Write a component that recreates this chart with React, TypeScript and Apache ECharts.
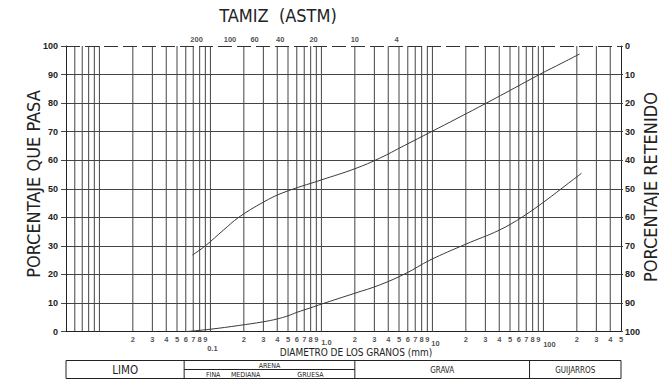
import React, { useEffect, useRef } from "react";
import * as echarts from "echarts";

// Grain-size distribution: particle diameter (mm) vs. percent passing
const upperSize = [0.069, 0.09, 0.13, 0.18, 0.3, 0.45, 1.0, 2.0, 3.35, 5.5, 9.8, 17, 30.6, 55, 92, 150, 212];
const upperPass = [26.8, 30, 35.4, 40, 45.3, 48.6, 53.1, 57, 60.7, 65, 70, 74.8, 80, 85.3, 90, 94.2, 97.2];

const lowerSize = [0.062, 0.1, 0.18, 0.3, 0.4, 0.5, 0.6, 0.8, 1.0, 2.0, 3.35, 5.8, 9.5, 20, 40, 65, 106, 160, 220];
const lowerPass = [0, 0.8, 2.1, 3.4, 4.4, 5.5, 6.7, 8.3, 9.6, 13.4, 16.3, 20.4, 25, 30.6, 35.5, 40.2, 46, 51.3, 55.4];

// ASTM sieve numbers and their openings (mm)
const sieveNames = ["200", "100", "60", "40", "20", "10", "4"];
const sieveSizes = [0.075, 0.15, 0.25, 0.425, 0.85, 2.0, 4.75];

// Log-axis tick labels: leading digits inside each decade
const digitLabels = ["2", "3", "4", "5", "6", "7", "8", "9"];
const labelledDecades = [0.01, 0.1, 1, 10];
const lastDecade = 100;
const lastDecadeDigits = ["2", "3", "4", "5"];
const decadeValues = [0.1, 1, 10, 100];
const decadeTexts = ["0.1", "1.0", "10", "100"];

// Vertical grid: every integer multiple within each decade
const gridDecades = [0.001, 0.01, 0.1, 1, 10, 100];
const gridMultipliers = [1, 2, 3, 4, 5, 6, 7, 8, 9];

// Soil classification bands
const soilNames = ["LIMO", "ARENA", "GRAVA", "GUIJARROS"];
const soilBounds = [0.005, 0.058, 2, 75, 500];
const arenaParts = ["FINA", "MEDIANA", "GRUESA"];

const X_MIN = 0.005;
const X_MAX = 500;

const NARROW = "'Liberation Sans Narrow', 'DejaVu Sans Condensed', 'Liberation Sans', sans-serif";
const SANS = "'Liberation Sans', Arial, sans-serif";
const INK = "#222";
const GRID = "#444";

// where the decade numbers sit relative to their grid line
const decadeLabelOffsets: Record<string, [number, number]> = {
  "0.1": [2, 9],
  "1.0": [5, 3],
  "10": [3, 4],
  "100": [6, 5],
};
// horizontal placement of the sand sub-classes inside the ARENA cell
const arenaPartFractions = [0.17, 0.36, 0.74];

export default function App() {
  const ref = useRef<HTMLDivElement>(null);

  useEffect(() => {
    if (!ref.current) return;
    const chart = echarts.init(ref.current, null, { renderer: "svg" });

    const gridLines: number[] = [];
    gridDecades.forEach((d) =>
      gridMultipliers.forEach((m) => {
        const v = +(d * m).toPrecision(6);
        if (v > X_MIN * 1.0001 && v < X_MAX * 0.9999) gridLines.push(v);
      })
    );
    // each grid line is a two-point segment, separated by an empty point
    const gridSegments: any[] = [];
    gridLines.forEach((v) => {
      gridSegments.push([v, 0], [v, 100], [v, "-"]);
    });

    const digitPoints: { value: [number, number]; name: string }[] = [];
    labelledDecades.forEach((d) =>
      digitLabels.forEach((t) => digitPoints.push({ value: [+(d * Number(t)).toPrecision(6), 0], name: t }))
    );
    lastDecadeDigits.forEach((t) => digitPoints.push({ value: [lastDecade * Number(t), 0], name: t }));

    const option: echarts.EChartsOption = {
      animation: false,
      backgroundColor: "#fff",
      grid: { left: 66, top: 46, width: 555, height: 285.5, containLabel: false },
      xAxis: {
        type: "log",
        logBase: 10,
        min: X_MIN,
        max: X_MAX,
        axisLine: { show: true, onZero: false, lineStyle: { color: INK, width: 1 } },
        axisTick: { show: false },
        axisLabel: { show: false },
        splitLine: { show: false },
      },
      yAxis: [
        {
          type: "value",
          min: 0,
          max: 100,
          interval: 10,
          position: "left",
          axisLine: { show: true, lineStyle: { color: INK, width: 1 } },
          axisTick: { show: true, inside: false, length: 5, lineStyle: { color: GRID } },
          axisLabel: { margin: 8, fontSize: 9, fontWeight: "bold", color: INK, fontFamily: SANS },
          splitLine: {
            show: true,
            showMinLine: false,
            showMaxLine: false,
            lineStyle: { color: GRID, width: 1 },
          },
        },
        {
          type: "value",
          min: 0,
          max: 100,
          interval: 10,
          inverse: true,
          position: "right",
          axisLine: { show: true, lineStyle: { color: INK, width: 1 } },
          axisTick: { show: true, inside: false, length: 2, lineStyle: { color: GRID } },
          axisLabel: { margin: 4, fontSize: 9, fontWeight: "bold", color: INK, fontFamily: SANS },
          splitLine: { show: false },
        },
      ],
      series: [
        {
          type: "line",
          name: "vgrid",
          data: gridSegments,
          connectNulls: false,
          symbol: "none",
          silent: true,
          lineStyle: { color: GRID, width: 1 },
          z: 1,
          markLine: {
            silent: true,
            symbol: ["none", "none"],
            label: { show: false },
            emphasis: { disabled: true },
            lineStyle: { color: "#333", width: 1, type: [14, 5] },
            data: [{ yAxis: 100 }],
          },
        },
        {
          type: "line",
          name: "upper",
          data: upperSize.map((s, i) => [s, upperPass[i]]),
          smooth: 0.4,
          symbol: "none",
          lineStyle: { color: "#3a3a3a", width: 1 },
          z: 5,
          silent: true,
        },
        {
          type: "line",
          name: "lower",
          data: lowerSize.map((s, i) => [s, lowerPass[i]]),
          smooth: 0.4,
          symbol: "none",
          lineStyle: { color: "#3a3a3a", width: 1 },
          z: 5,
          silent: true,
        },
        {
          type: "scatter",
          name: "sieves",
          data: sieveSizes.map((s, i) => ({ value: [s, 100], name: sieveNames[i] })),
          symbolSize: 0,
          clip: false,
          silent: true,
          label: {
            show: true,
            position: "top",
            distance: 3,
            formatter: (p: any) => p.name,
            fontSize: 7.5,
            fontWeight: "bold",
            color: INK,
            fontFamily: SANS,
          },
        },
        {
          type: "scatter",
          name: "digits",
          data: digitPoints,
          symbolSize: 0,
          clip: false,
          silent: true,
          label: {
            show: true,
            position: "bottom",
            distance: 4,
            formatter: (p: any) => p.name,
            fontSize: 7.5,
            fontWeight: "bold",
            color: INK,
            fontFamily: SANS,
          },
        },
        {
          type: "scatter",
          name: "decades",
          data: decadeValues.map((v, i) => ({
            value: [v, 0],
            name: decadeTexts[i],
            label: { offset: decadeLabelOffsets[decadeTexts[i]] },
          })),
          symbolSize: 0,
          clip: false,
          silent: true,
          label: {
            show: true,
            position: "bottom",
            distance: 4,
            formatter: (p: any) => p.name,
            fontSize: 7.5,
            fontWeight: "bold",
            color: INK,
            fontFamily: SANS,
          },
        },
      ],
    };

    chart.setOption(option);

    // classification table under the plot, aligned with the diameter axis
    const px = (v: number) => chart.convertToPixel({ xAxisIndex: 0 }, v) as number;
    const bx = soilBounds.map(px);
    const top = 360.5;
    const mid = 369.5;
    const bot = 378.5;
    const lineStyle = { stroke: INK, lineWidth: 1 };
    const graphic: any[] = [
      { type: "rect", shape: { x: bx[0], y: top, width: bx[4] - bx[0], height: bot - top }, style: { fill: "none", ...lineStyle } },
      ...bx.slice(1, 4).map((x) => ({ type: "line", shape: { x1: x, y1: top, x2: x, y2: bot }, style: lineStyle })),
      { type: "line", shape: { x1: bx[1], y1: mid, x2: bx[2], y2: mid }, style: lineStyle },
      ...soilNames.map((n, i) => ({
        type: "text",
        x: (bx[i] + bx[i + 1]) / 2,
        y: n === "ARENA" ? (top + mid) / 2 + 0.5 : (top + bot) / 2 + 0.5,
        style: {
          text: n,
          align: "center",
          verticalAlign: "middle",
          fontSize: n === "LIMO" ? 11.5 : n === "ARENA" ? 7 : 8,
          fontFamily: NARROW,
          fill: INK,
        },
      })),
      ...arenaParts.map((n, i) => ({
        type: "text",
        x: bx[1] + (bx[2] - bx[1]) * arenaPartFractions[i],
        y: (mid + bot) / 2 + 0.5,
        style: { text: n, align: "center", verticalAlign: "middle", fontSize: 7, fontFamily: NARROW, fill: INK },
      })),
      {
        type: "text",
        x: 278,
        y: 15,
        style: { text: "TAMIZ  (ASTM)", align: "center", verticalAlign: "middle", fontSize: 18, fontFamily: NARROW, fill: INK },
      },
      {
        type: "text",
        x: 33.5,
        y: 184,
        rotation: Math.PI / 2,
        style: { text: "PORCENTAJE QUE PASA", align: "center", verticalAlign: "middle", fontSize: 18, fontFamily: NARROW, fill: INK },
      },
      {
        type: "text",
        x: 650,
        y: 187,
        rotation: Math.PI / 2,
        style: { text: "PORCENTAJE RETENIDO", align: "center", verticalAlign: "middle", fontSize: 18, fontFamily: NARROW, fill: INK },
      },
      {
        type: "text",
        x: 356,
        y: 352,
        style: { text: "DIAMETRO DE LOS GRANOS (mm)", align: "center", verticalAlign: "middle", fontSize: 10, fontFamily: NARROW, fill: INK },
      },
    ];
    chart.setOption({ graphic });

    return () => chart.dispose();
  }, []);

  return (
    <div
      ref={ref}
      style={{ position: "fixed", left: 0, top: 0, width: 659, height: 380, background: "#fff" }}
    />
  );
}
